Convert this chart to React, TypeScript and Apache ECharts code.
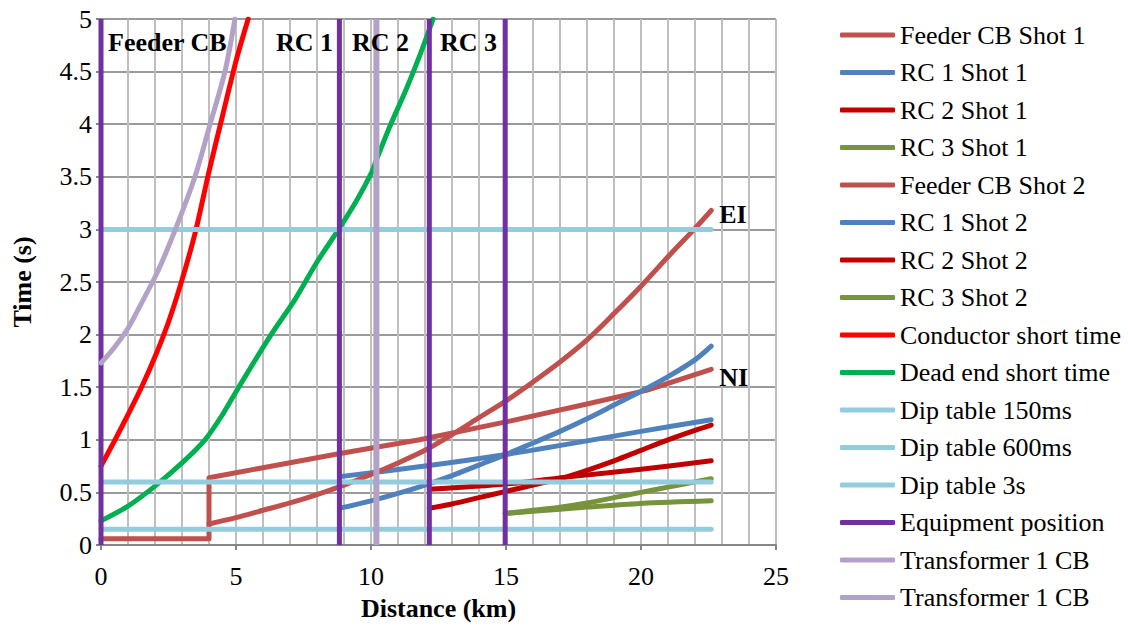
import React, { useEffect, useRef } from "react";
import * as echarts from "echarts";

const SERIF = '"Liberation Serif", "Times New Roman", serif';

// Operating-time curves, [distance km, time s]
const feederShot1: [number, number][] = [
  [0, 0.06], [4, 0.06], [4, 0.64], [6, 0.735], [8.85, 0.87], [11.8, 1.0],
  [15, 1.17], [18, 1.34], [20.2, 1.47], [22.6, 1.67],
];
const feederShot2: [number, number][] = [
  [4, 0.2], [5, 0.26], [6, 0.33], [7, 0.4], [8, 0.48], [9, 0.57], [10, 0.67],
  [11, 0.78], [12, 0.9], [13, 1.05], [14, 1.21], [15, 1.37], [16, 1.55],
  [17, 1.74], [18, 1.95], [19, 2.2], [20, 2.46], [21, 2.74], [22, 3.01], [22.6, 3.18],
];
const rc1Shot1: [number, number][] = [
  [8.85, 0.65], [12, 0.75], [15, 0.86], [18, 0.99], [20, 1.08], [22.6, 1.19],
];
const rc1Shot2: [number, number][] = [
  [8.85, 0.35], [10, 0.42], [11, 0.49], [12, 0.57], [13, 0.66], [14, 0.76],
  [15, 0.86], [16, 0.97], [17, 1.08], [18, 1.2], [19, 1.33], [20, 1.46],
  [21, 1.6], [22, 1.76], [22.6, 1.89],
];
const rc2Shot1: [number, number][] = [
  [12.16, 0.53], [15, 0.58], [17.4, 0.65], [20, 0.72], [22.6, 0.8],
];
const rc2Shot2: [number, number][] = [
  [12.16, 0.35], [13, 0.39], [14, 0.45], [15, 0.51], [16, 0.57], [17, 0.63],
  [18, 0.71], [19, 0.8], [20, 0.9], [21, 1.0], [22, 1.09], [22.6, 1.14],
];
const rc3Shot1: [number, number][] = [
  [14.97, 0.3], [16, 0.32], [18, 0.36], [20, 0.395], [22.6, 0.42],
];
const rc3Shot2: [number, number][] = [
  [14.97, 0.3], [16, 0.33], [17, 0.36], [18, 0.4], [19, 0.45], [20, 0.5],
  [21, 0.55], [22, 0.6], [22.6, 0.63],
];

// Withstand limits
const conductorShortTime: [number, number][] = [
  [0, 0.75], [0.5, 0.99], [1, 1.24], [1.5, 1.5], [2, 1.79], [2.5, 2.12],
  [3, 2.52], [3.5, 2.98], [4, 3.55], [4.5, 4.08], [5, 4.6], [5.45, 5],
];
const deadEndShortTime: [number, number][] = [
  [0, 0.23], [1, 0.37], [2, 0.56], [3, 0.78], [3.85, 1.0], [4.5, 1.24],
  [5.1, 1.5], [6.3, 2.0], [7.2, 2.34], [8, 2.69], [8.8, 3.0], [9.5, 3.29],
  [10, 3.53], [10.2, 3.66], [10.7, 3.98], [11.3, 4.33], [11.8, 4.65], [12.3, 5.0],
];
const transformerCurve: [number, number][] = [
  [0, 1.73], [0.5, 1.88], [1, 2.06], [1.5, 2.3], [2.1, 2.6], [2.74, 2.99],
  [3.48, 3.5], [4.04, 4.0], [4.59, 4.5], [4.96, 5],
];

// Voltage dip table limits (s) and their extent (km)
const dipNames = ["Dip table 150ms", "Dip table 600ms", "Dip table 3s"];
const dipTimes = [0.15, 0.6, 3];
const dipExtent = [0, 22.6];

// Device locations along the feeder (km)
const equipmentPositions = [0, 8.83, 12.16, 14.97];
const transformerCbPosition = 10.2;
const timeRange = [0, 5];

const deviceLabels = [
  { text: "Feeder CB", x: 108 },
  { text: "RC 1", x: 276 },
  { text: "RC 2", x: 352 },
  { text: "RC 3", x: 440 },
];

const legendNames = [
  "Feeder CB Shot 1", "RC 1 Shot 1", "RC 2 Shot 1", "RC 3 Shot 1",
  "Feeder CB Shot 2", "RC 1 Shot 2", "RC 2 Shot 2", "RC 3 Shot 2",
  "Conductor short time", "Dead end short time",
  "Dip table 150ms", "Dip table 600ms", "Dip table 3s",
  "Equipment position", "Transformer 1 CB", "Transformer 1 CB ",
];

const C = {
  feeder: "#C0504D",
  rc1: "#4F81BD",
  rc2: "#C00000",
  rc3: "#77933C",
  conductor: "#FF0000",
  deadEnd: "#00B050",
  dip: "#93CDDD",
  equipment: "#7030A0",
  transformer: "#B3A2C7",
};

const boldLabel = {
  fontFamily: SERIF,
  fontSize: 26,
  fontWeight: "bold" as const,
  color: "#000",
};

function line(name: string, data: any[], color: string, extra: any = {}) {
  return {
    type: "line",
    name,
    data,
    color,
    symbol: "none",
    showSymbol: false,
    silent: true,
    itemStyle: { color },
    lineStyle: { color, width: 5, cap: "round", join: "round" },
    ...extra,
  };
}

export default function App() {
  const ref = useRef<HTMLDivElement>(null);

  useEffect(() => {
    const chart = echarts.init(ref.current!, null, { renderer: "svg" });

    const series: any[] = [
      line("Feeder CB Shot 1", feederShot1, C.feeder, {
        endLabel: { show: true, formatter: "NI", distance: 8, offset: [0, 8], ...boldLabel },
      }),
      line("RC 1 Shot 1", rc1Shot1, C.rc1, { smooth: 0.3 }),
      line("RC 2 Shot 1", rc2Shot1, C.rc2, { smooth: 0.3 }),
      line("RC 3 Shot 1", rc3Shot1, C.rc3, { smooth: 0.3 }),
      line("Feeder CB Shot 2", feederShot2, C.feeder, {
        smooth: 0.3,
        endLabel: { show: true, formatter: "EI", distance: 8, offset: [0, 4], ...boldLabel },
      }),
      line("RC 1 Shot 2", rc1Shot2, C.rc1, { smooth: 0.3 }),
      line("RC 2 Shot 2", rc2Shot2, C.rc2, { smooth: 0.3 }),
      line("RC 3 Shot 2", rc3Shot2, C.rc3, { smooth: 0.3 }),
      line("Conductor short time", conductorShortTime, C.conductor, { smooth: 0.3 }),
      line("Dead end short time", deadEndShortTime, C.deadEnd, { smooth: 0.3 }),
      ...dipTimes.map((t, i) =>
        line(dipNames[i], dipExtent.map((x) => [x, t]), C.dip)
      ),
      ...equipmentPositions.map((x) =>
        line("Equipment position", timeRange.map((t) => [x, t]), C.equipment, {
          lineStyle: { color: C.equipment, width: 5, cap: "butt" },
        })
      ),
      line("Transformer 1 CB", transformerCurve, C.transformer, { smooth: 0.3 }),
      line(
        "Transformer 1 CB ",
        timeRange.map((t) => [transformerCbPosition, t]),
        C.transformer,
        { lineStyle: { color: C.transformer, width: 6, cap: "butt" } }
      ),
    ];

    const option: any = {
      animation: false,
      backgroundColor: "#fff",
      textStyle: { fontFamily: SERIF },
      grid: { left: 101, right: 352, top: 19, bottom: 85, containLabel: false },
      xAxis: {
        type: "value",
        min: 0,
        max: 25,
        interval: 5,
        name: "Distance (km)",
        nameLocation: "middle",
        nameGap: 50,
        nameTextStyle: { ...boldLabel },
        axisLine: { show: true, onZero: false, lineStyle: { color: "#868686", width: 2 } },
        axisTick: { show: true, length: 5, lineStyle: { color: "#868686", width: 2 } },
        axisLabel: { fontFamily: SERIF, fontSize: 26, color: "#000", margin: 18 },
        splitLine: { show: true, lineStyle: { color: "#BFBFBF", width: 2 } },
        minorSplitLine: { show: true, lineStyle: { color: "#BFBFBF", width: 2 } },
        minorTick: { show: false, splitNumber: 5 },
      },
      yAxis: {
        type: "value",
        min: 0,
        max: 5,
        interval: 0.5,
        name: "Time (s)",
        nameLocation: "middle",
        nameGap: 66,
        nameTextStyle: { ...boldLabel },
        axisLine: { show: true, lineStyle: { color: "#868686", width: 2 } },
        axisTick: { show: true, length: 5, lineStyle: { color: "#868686", width: 2 } },
        axisLabel: { fontFamily: SERIF, fontSize: 26, color: "#000", margin: 9 },
        splitLine: { show: true, lineStyle: { color: "#9A9A9A", width: 2 } },
      },
      legend: {
        orient: "vertical",
        left: 835,
        top: 16,
        data: legendNames,
        icon: "roundRect",
        itemWidth: 55,
        itemHeight: 5,
        itemGap: 9.5,
        itemStyle: { borderWidth: 0 },
        textStyle: { fontFamily: SERIF, fontSize: 26, color: "#000", lineHeight: 28 },
        selectedMode: false,
      },
      graphic: deviceLabels.map((d) => ({
        type: "text",
        x: d.x,
        y: 42,
        silent: true,
        style: {
          text: d.text,
          fontFamily: SERIF,
          fontSize: 26,
          fontWeight: "bold",
          fill: "#000",
          verticalAlign: "middle",
        },
        z: 100,
      })),
      series,
    };

    chart.setOption(option);
    return () => chart.dispose();
  }, []);

  return (
    <div
      ref={ref}
      style={{ position: "absolute", left: 0, top: 0, width: 1128, height: 630 }}
    />
  );
}
